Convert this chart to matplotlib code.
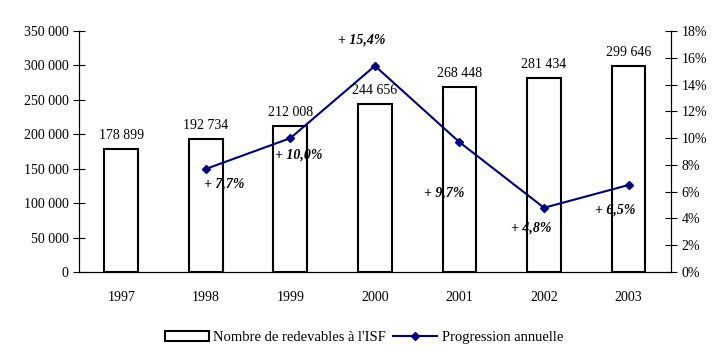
import matplotlib.pyplot as plt
from matplotlib.ticker import FuncFormatter

plt.rcParams['font.family'] = ['Liberation Serif', 'DejaVu Serif']

annees = ['1997', '1998', '1999', '2000', '2001', '2002', '2003']
redevables = [178899, 192734, 212008, 244656, 268448, 281434, 299646]
prog_annees = ['1998', '1999', '2000', '2001', '2002', '2003']
progression = [7.7, 10.0, 15.4, 9.7, 4.8, 6.5]
prog_labels = ['+ 7,7%', '+ 10,0%', '+ 15,4%', '+ 9,7%', '+ 4,8%', '+ 6,5%']

fig = plt.figure(figsize=(7.28, 3.57), dpi=100)
ax1 = fig.add_axes([0.1085, 0.238, 0.813, 0.675])
x = list(range(len(annees)))
ax1.bar(x, redevables, width=0.4, color='white', edgecolor='black', lw=1.5,
        label="Nombre de redevables à l'ISF", zorder=2)
for i, v in zip(x, redevables):
    ax1.annotate(f'{v:,}'.replace(',', ' '), (i, v), xytext=(0, 5), textcoords='offset points',
                 ha='center', va='bottom', fontsize=10)
ax1.set_xlim(-0.5, 6.5)
ax1.set_ylim(0, 350000)
ax1.set_yticks(range(0, 350001, 50000))
ax1.yaxis.set_major_formatter(FuncFormatter(lambda v, p: f'{int(v):,}'.replace(',', ' ')))
ax1.set_xticks(x)
ax1.set_xticklabels(annees)
ax1.tick_params(axis='x', length=0, pad=14, labelsize=10)
ax1.tick_params(axis='y', direction='inout', length=8, labelsize=10)
ax1.spines['top'].set_visible(False)

ax2 = ax1.twinx()
px = [annees.index(a) for a in prog_annees]
ax2.plot(px, progression, color='#000080', marker='D', ms=4, lw=1.5,
         label='Progression annuelle', zorder=3)
ax2.set_ylim(0, 18)
ax2.set_yticks(range(0, 19, 2))
ax2.yaxis.set_major_formatter(FuncFormatter(lambda v, p: f'{int(v)}%'))
ax2.tick_params(axis='y', direction='inout', length=8, labelsize=10)
ax2.spines['top'].set_visible(False)

# decalages des etiquettes en pixels
offsets = [(-2, -15), (-15, -17), (-37, 26), (-35, -51), (-33, -20), (-34, -25)]
for xi, v, lab, off in zip(px, progression, prog_labels, offsets):
    ax2.annotate(lab, (xi, v), xytext=off, textcoords='offset pixels', ha='left', va='center',
                 fontsize=10, fontweight='bold', fontstyle='italic')

h1, l1 = ax1.get_legend_handles_labels()
h2, l2 = ax2.get_legend_handles_labels()
fig.legend(h1 + h2, l1 + l2, loc='lower center', bbox_to_anchor=(0.5, 0.0), ncol=2,
           frameon=False, fontsize=10.5, handlelength=3, columnspacing=0.5, handletextpad=0.3)

plt.savefig('out.png', dpi=100)
